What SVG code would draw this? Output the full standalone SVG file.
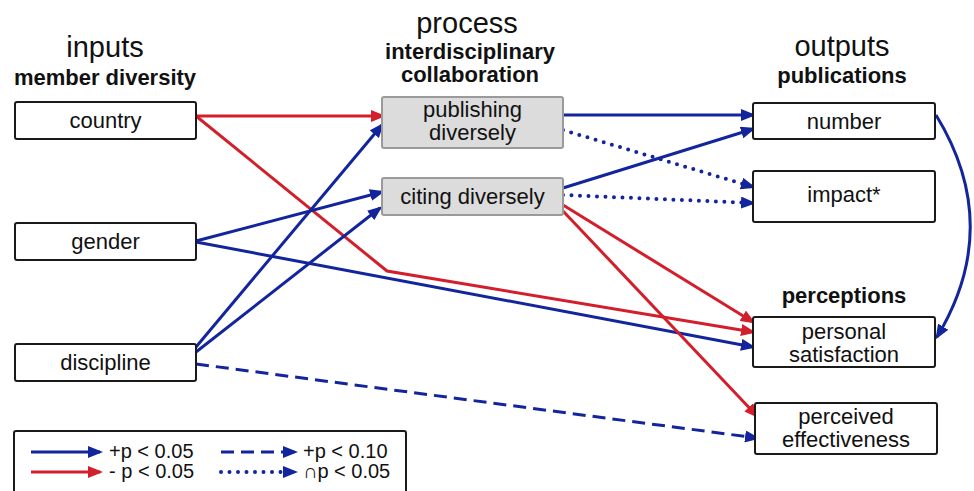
<svg xmlns="http://www.w3.org/2000/svg" width="974" height="491" viewBox="0 0 974 491">
  <style>
    .bg { fill: #ffffff; }
    .box { fill: #ffffff; stroke: #1a1a1a; stroke-width: 2; }
    .pbox { fill: #dcdcdc; stroke: #9a9a9a; stroke-width: 2; }
    .lbl { font-family: "Liberation Sans", Arial, sans-serif; font-size: 22px; fill: #111111; text-anchor: middle; }
    .head { font-family: "Liberation Sans", Arial, sans-serif; font-size: 29px; fill: #111111; text-anchor: middle; }
    .sub { font-family: "Liberation Sans", Arial, sans-serif; font-size: 22px; font-weight: bold; fill: #111111; text-anchor: middle; }
    .leg { font-family: "Liberation Sans", Arial, sans-serif; font-size: 20px; fill: #111111; }
    .pos { fill: none; stroke: #13259c; stroke-width: 3; marker-end: url(#ab); }
    .neg { fill: none; stroke: #d21f2b; stroke-width: 3; marker-end: url(#ar); }
    .dash { stroke-dasharray: 13 7; }
    .dot { stroke-dasharray: 0 8.5; stroke-linecap: round; stroke-width: 4; }
  </style>
  <defs>
    <marker id="ab" viewBox="0 0 15 12" markerWidth="15" markerHeight="12" refX="12" refY="6" orient="auto" markerUnits="userSpaceOnUse">
      <path d="M0,0 L15,6 L0,12 z" fill="#13259c"/>
    </marker>
    <marker id="ar" viewBox="0 0 15 12" markerWidth="15" markerHeight="12" refX="12" refY="6" orient="auto" markerUnits="userSpaceOnUse">
      <path d="M0,0 L15,6 L0,12 z" fill="#d21f2b"/>
    </marker>
  </defs>

  <rect class="bg" x="0" y="0" width="974" height="491"/>

  <!-- column headings -->
  <g id="headings">
    <text class="head" x="105" y="57">inputs</text>
    <text class="sub" x="105" y="85">member diversity</text>
    <text class="head" x="467" y="33">process</text>
    <text class="sub" x="470" y="59">interdisciplinary</text>
    <text class="sub" x="470" y="82">collaboration</text>
    <text class="head" x="842" y="56">outputs</text>
    <text class="sub" x="842" y="83">publications</text>
    <text class="sub" x="844" y="303">perceptions</text>
  </g>

  <!-- connectors -->
  <g id="connectors">
    <path class="neg" d="M196,116 L383,116"/>
    <path class="neg" d="M196,116 L387,271 L753,332"/>
    <path class="pos" d="M196,241 L382,192"/>
    <path class="pos" d="M196,242 L753,347"/>
    <path class="pos" d="M196,347 L382,125"/>
    <path class="pos" d="M196,352 L380,208"/>
    <path class="pos dash" d="M196,364 L757,438"/>
    <path class="pos" d="M563,115 L753,115"/>
    <path class="pos dot" d="M563,130 L753,187"/>
    <path class="pos" d="M563,188 L753,129"/>
    <path class="pos dot" d="M563,195 L753,203"/>
    <path class="neg" d="M563,205 L753,322"/>
    <path class="neg" d="M563,211 L757,416"/>
    <path class="pos" d="M936,115 Q1004,226 937,337"/>
  </g>

  <!-- input nodes -->
  <g id="country">
    <rect class="box" x="15" y="102" width="181" height="37" rx="2"/>
    <text class="lbl" x="105.5" y="128">country</text>
  </g>
  <g id="gender">
    <rect class="box" x="15" y="223" width="181" height="37" rx="2"/>
    <text class="lbl" x="105.5" y="249">gender</text>
  </g>
  <g id="discipline">
    <rect class="box" x="15" y="344" width="181" height="37" rx="2"/>
    <text class="lbl" x="105.5" y="370">discipline</text>
  </g>

  <!-- process nodes -->
  <g id="publishing">
    <rect class="pbox" x="382" y="97" width="181" height="51" rx="2"/>
    <text class="lbl" x="472.5" y="117">publishing</text>
    <text class="lbl" x="472.5" y="140">diversely</text>
  </g>
  <g id="citing">
    <rect class="pbox" x="382" y="178" width="181" height="37" rx="2"/>
    <text class="lbl" x="472.5" y="204">citing diversely</text>
  </g>

  <!-- output nodes -->
  <g id="number">
    <rect class="box" x="753" y="103" width="182" height="36" rx="2"/>
    <text class="lbl" x="844" y="129">number</text>
  </g>
  <g id="impact">
    <rect class="box" x="753" y="171" width="182" height="51" rx="2"/>
    <text class="lbl" x="844" y="202">impact*</text>
  </g>
  <g id="satisfaction">
    <rect class="box" x="753" y="317" width="182" height="50" rx="2"/>
    <text class="lbl" x="844" y="339">personal</text>
    <text class="lbl" x="844" y="362">satisfaction</text>
  </g>
  <g id="effectiveness">
    <rect class="box" x="755" y="403" width="182" height="51" rx="2"/>
    <text class="lbl" x="846" y="424">perceived</text>
    <text class="lbl" x="846" y="447">effectiveness</text>
  </g>

  <!-- key -->
  <g id="legend">
    <rect class="box" x="14" y="431" width="392" height="70" rx="2"/>
    <path class="pos" d="M31,452 L100,452"/>
    <text class="leg" x="109" y="458">+p &lt; 0.05</text>
    <path class="neg" d="M31,472 L100,472"/>
    <text class="leg" x="109" y="478">- p &lt; 0.05</text>
    <path class="pos dash" d="M221,452 L295,452"/>
    <text class="leg" x="303" y="458">+p &lt; 0.10</text>
    <path class="pos dot" d="M221,472 L295,472"/>
    <text class="leg" x="303" y="478">∩p &lt; 0.05</text>
  </g>
</svg>
